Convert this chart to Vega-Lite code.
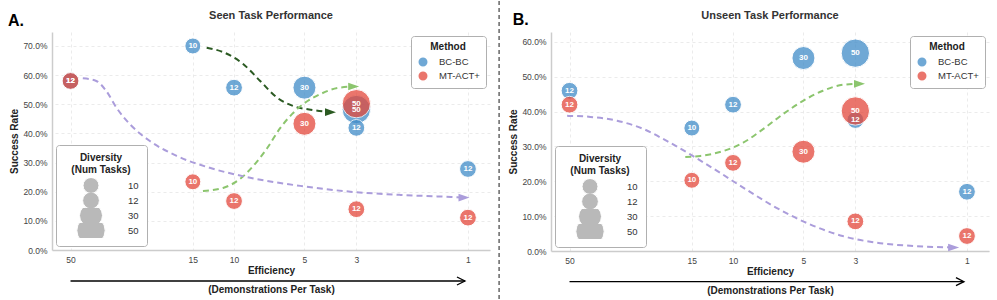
{
  "$schema": "https://vega.github.io/schema/vega-lite/v6.json",
  "padding": {"left": 8, "top": 0, "right": 5, "bottom": 0},
  "datasets": {
    "seenPoints": [
      {"method": "BC-BC", "demos": 50, "tasks": 12, "rate": 0.58},
      {"method": "BC-BC", "demos": 15, "tasks": 10, "rate": 0.70},
      {"method": "BC-BC", "demos": 10, "tasks": 12, "rate": 0.557},
      {"method": "BC-BC", "demos": 5, "tasks": 30, "rate": 0.557},
      {"method": "BC-BC", "demos": 3, "tasks": 50, "rate": 0.482},
      {"method": "BC-BC", "demos": 3, "tasks": 12, "rate": 0.419},
      {"method": "BC-BC", "demos": 1, "tasks": 12, "rate": 0.278},
      {"method": "MT-ACT+", "demos": 50, "tasks": 12, "rate": 0.58},
      {"method": "MT-ACT+", "demos": 15, "tasks": 10, "rate": 0.234},
      {"method": "MT-ACT+", "demos": 10, "tasks": 12, "rate": 0.168},
      {"method": "MT-ACT+", "demos": 5, "tasks": 30, "rate": 0.433},
      {"method": "MT-ACT+", "demos": 3, "tasks": 50, "rate": 0.502},
      {"method": "MT-ACT+", "demos": 3, "tasks": 12, "rate": 0.14},
      {"method": "MT-ACT+", "demos": 1, "tasks": 12, "rate": 0.111}
    ],
    "unseenPoints": [
      {"method": "BC-BC", "demos": 50, "tasks": 12, "rate": 0.46},
      {"method": "BC-BC", "demos": 15, "tasks": 10, "rate": 0.353},
      {"method": "BC-BC", "demos": 10, "tasks": 12, "rate": 0.42},
      {"method": "BC-BC", "demos": 5, "tasks": 30, "rate": 0.554},
      {"method": "BC-BC", "demos": 3, "tasks": 50, "rate": 0.568},
      {"method": "BC-BC", "demos": 3, "tasks": 12, "rate": 0.376},
      {"method": "BC-BC", "demos": 1, "tasks": 12, "rate": 0.17},
      {"method": "MT-ACT+", "demos": 50, "tasks": 12, "rate": 0.42},
      {"method": "MT-ACT+", "demos": 15, "tasks": 10, "rate": 0.203},
      {"method": "MT-ACT+", "demos": 10, "tasks": 12, "rate": 0.253},
      {"method": "MT-ACT+", "demos": 5, "tasks": 30, "rate": 0.285},
      {"method": "MT-ACT+", "demos": 3, "tasks": 50, "rate": 0.402},
      {"method": "MT-ACT+", "demos": 3, "tasks": 12, "rate": 0.085},
      {"method": "MT-ACT+", "demos": 1, "tasks": 12, "rate": 0.043}
    ],
    "seenCurves": [
      {"kind": "dark", "demos": 13.09, "rate": 0.694},
      {"kind": "dark", "demos": 11.14, "rate": 0.679},
      {"kind": "dark", "demos": 9.14, "rate": 0.638},
      {"kind": "dark", "demos": 7.73, "rate": 0.58},
      {"kind": "dark", "demos": 6.53, "rate": 0.522},
      {"kind": "dark", "demos": 5.58, "rate": 0.494},
      {"kind": "dark", "demos": 4.58, "rate": 0.48},
      {"kind": "dark", "demos": 3.87, "rate": 0.473},
      {"kind": "light", "demos": 13.58, "rate": 0.2025},
      {"kind": "light", "demos": 11.14, "rate": 0.213},
      {"kind": "light", "demos": 9.42, "rate": 0.244},
      {"kind": "light", "demos": 8.28, "rate": 0.288},
      {"kind": "light", "demos": 7.21, "rate": 0.35},
      {"kind": "light", "demos": 6.34, "rate": 0.419},
      {"kind": "light", "demos": 5.64, "rate": 0.467},
      {"kind": "light", "demos": 5.06, "rate": 0.501},
      {"kind": "light", "demos": 4.27, "rate": 0.535},
      {"kind": "light", "demos": 3.61, "rate": 0.556},
      {"kind": "light", "demos": 3.08, "rate": 0.561},
      {"kind": "purple", "demos": 44.3, "rate": 0.589},
      {"kind": "purple", "demos": 38.8, "rate": 0.58},
      {"kind": "purple", "demos": 35.2, "rate": 0.546},
      {"kind": "purple", "demos": 31.8, "rate": 0.488},
      {"kind": "purple", "demos": 27.9, "rate": 0.432},
      {"kind": "purple", "demos": 22.9, "rate": 0.374},
      {"kind": "purple", "demos": 17.6, "rate": 0.323},
      {"kind": "purple", "demos": 12.7, "rate": 0.282},
      {"kind": "purple", "demos": 8.53, "rate": 0.248},
      {"kind": "purple", "demos": 5.21, "rate": 0.22},
      {"kind": "purple", "demos": 3.18, "rate": 0.2},
      {"kind": "purple", "demos": 1.94, "rate": 0.189},
      {"kind": "purple", "demos": 1.18, "rate": 0.182},
      {"kind": "purple", "demos": 1.04, "rate": 0.18}
    ],
    "unseenCurves": [
      {"kind": "light", "demos": 16.0, "rate": 0.27},
      {"kind": "light", "demos": 13.8, "rate": 0.273},
      {"kind": "light", "demos": 11.0, "rate": 0.287},
      {"kind": "light", "demos": 9.05, "rate": 0.311},
      {"kind": "light", "demos": 7.44, "rate": 0.35},
      {"kind": "light", "demos": 6.11, "rate": 0.393},
      {"kind": "light", "demos": 5.02, "rate": 0.431},
      {"kind": "light", "demos": 4.13, "rate": 0.46},
      {"kind": "light", "demos": 3.4, "rate": 0.477},
      {"kind": "light", "demos": 2.88, "rate": 0.48},
      {"kind": "purple", "demos": 51.2, "rate": 0.388},
      {"kind": "purple", "demos": 40.7, "rate": 0.385},
      {"kind": "purple", "demos": 31.3, "rate": 0.374},
      {"kind": "purple", "demos": 24.1, "rate": 0.35},
      {"kind": "purple", "demos": 19.2, "rate": 0.316},
      {"kind": "purple", "demos": 15.3, "rate": 0.278},
      {"kind": "purple", "demos": 11.7, "rate": 0.23},
      {"kind": "purple", "demos": 9.05, "rate": 0.182},
      {"kind": "purple", "demos": 6.52, "rate": 0.124},
      {"kind": "purple", "demos": 4.71, "rate": 0.077},
      {"kind": "purple", "demos": 3.4, "rate": 0.043},
      {"kind": "purple", "demos": 2.45, "rate": 0.024},
      {"kind": "purple", "demos": 1.65, "rate": 0.014},
      {"kind": "purple", "demos": 1.14, "rate": 0.01}
    ],
    "seenHeads": [
      {"kind": "dark", "demos": 3.87, "rate": 0.473},
      {"kind": "light", "demos": 3.08, "rate": 0.561},
      {"kind": "purple", "demos": 1.04, "rate": 0.18}
    ],
    "unseenHeads": [
      {"kind": "light", "demos": 2.88, "rate": 0.48},
      {"kind": "purple", "demos": 1.14, "rate": 0.01}
    ],
    "one": [{"n": 1}]
  },
  "hconcat": [
    {
      "width": 438,
      "height": 218,
      "layer": [
        {
          "data": {"name": "seenCurves"},
          "mark": {"type": "line", "strokeDash": [6, 4], "strokeWidth": 2, "interpolate": "monotone"},
          "encoding": {
            "x": {"field": "demos", "type": "quantitative", "scale": {"type": "log", "domain": [0.805, 60], "reverse": true, "nice": false},
              "axis": {"values": [50, 15, 10, 5, 3, 1], "format": "d", "labelPadding": 5, "title": ["Efficiency", "(Demonstrations Per Task)"], "titlePadding": 2, "titleLineHeight": 19}},
            "y": {"field": "rate", "type": "quantitative", "scale": {"domain": [0, 0.748], "nice": false},
              "axis": {"values": [0, 0.1, 0.2, 0.3, 0.4, 0.5, 0.6, 0.7], "format": ".1%", "title": "Success Rate", "labelPadding": 5, "titlePadding": 3}},
            "stroke": {"field": "kind", "type": "nominal", "scale": {"domain": ["dark", "light", "purple"], "range": ["#2b5a22", "#8cc56e", "#ab9ddb"]}, "legend": null},
            "order": {"field": "demos", "sort": "descending"}
          }
        },
        {
          "data": {"name": "seenHeads"},
          "mark": {"type": "point", "filled": true, "shape": "M-1,-0.7L1,0L-1,0.7Z", "size": 121, "opacity": 1, "strokeWidth": 0},
          "encoding": {
            "x": {"field": "demos", "type": "quantitative", "scale": {"type": "log", "domain": [0.805, 60], "reverse": true, "nice": false},
              "axis": {"values": [50, 15, 10, 5, 3, 1], "format": "d", "labelPadding": 5, "title": ["Efficiency", "(Demonstrations Per Task)"], "titlePadding": 2, "titleLineHeight": 19}},
            "y": {"field": "rate", "type": "quantitative", "scale": {"domain": [0, 0.748], "nice": false},
              "axis": {"values": [0, 0.1, 0.2, 0.3, 0.4, 0.5, 0.6, 0.7], "format": ".1%", "title": "Success Rate", "labelPadding": 5, "titlePadding": 3}},
            "fill": {"field": "kind", "type": "nominal", "scale": {"domain": ["dark", "light", "purple"], "range": ["#2b5a22", "#8cc56e", "#ab9ddb"]}, "legend": null}
          }
        },
        {
          "data": {"name": "seenPoints"},
          "mark": {"type": "point", "filled": true, "opacity": 0.75, "stroke": "white", "strokeWidth": 1},
          "encoding": {
            "x": {"field": "demos", "type": "quantitative", "scale": {"type": "log", "domain": [0.805, 60], "reverse": true, "nice": false},
              "axis": {"values": [50, 15, 10, 5, 3, 1], "format": "d", "labelPadding": 5, "title": ["Efficiency", "(Demonstrations Per Task)"], "titlePadding": 2, "titleLineHeight": 19}},
            "y": {"field": "rate", "type": "quantitative", "scale": {"domain": [0, 0.748], "nice": false},
              "axis": {"values": [0, 0.1, 0.2, 0.3, 0.4, 0.5, 0.6, 0.7], "format": ".1%", "title": "Success Rate", "labelPadding": 5, "titlePadding": 3}},
            "color": {"field": "method", "type": "nominal", "scale": {"domain": ["BC-BC", "MT-ACT+"], "range": ["#3f8bc8", "#e3483b"]},
              "legend": {"title": "Method", "orient": "top-right", "offset": 4, "symbolSize": 110, "symbolType": "circle", "labelOffset": 10, "padding": 6, "rowPadding": 2, "clipHeight": 12, "titlePadding": 4, "symbolOpacity": 0.75}},
            "size": {"field": "tasks", "type": "quantitative", "scale": {"type": "linear", "domain": [10, 50], "range": [254, 804], "zero": false},
              "legend": {"title": ["Diversity", "(Num Tasks)"], "orient": "bottom-left", "direction": "vertical", "offset": 4, "values": [10, 12, 30, 50],
                "symbolFillColor": "#8a8a8a", "symbolStrokeColor": "white", "symbolStrokeWidth": 1, "symbolOpacity": 0.6, "clipHeight": 15, "symbolOffset": 12,
                "rowPadding": 0, "labelOffset": 22, "padding": 8, "titleLineHeight": 12, "titlePadding": 3}}
          }
        },
        {
          "data": {"name": "seenPoints"},
          "mark": {"type": "text", "color": "white", "fontWeight": "bold", "fontSize": 8, "baseline": "middle"},
          "encoding": {
            "x": {"field": "demos", "type": "quantitative", "scale": {"type": "log", "domain": [0.805, 60], "reverse": true, "nice": false},
              "axis": {"values": [50, 15, 10, 5, 3, 1], "format": "d", "labelPadding": 5, "title": ["Efficiency", "(Demonstrations Per Task)"], "titlePadding": 2, "titleLineHeight": 19}},
            "y": {"field": "rate", "type": "quantitative", "scale": {"domain": [0, 0.748], "nice": false},
              "axis": {"values": [0, 0.1, 0.2, 0.3, 0.4, 0.5, 0.6, 0.7], "format": ".1%", "title": "Success Rate", "labelPadding": 5, "titlePadding": 3}},
            "text": {"field": "tasks", "type": "nominal"}
          }
        },
        {
          "data": {"name": "one"},
          "mark": {"type": "text", "fontSize": 16, "fontWeight": "bold", "align": "left", "baseline": "alphabetic", "color": "black"},
          "encoding": {
            "x": {"datum": 92.5, "type": "quantitative", "scale": {"type": "log", "domain": [0.805, 60], "reverse": true, "nice": false},
              "axis": {"values": [50, 15, 10, 5, 3, 1], "format": "d", "labelPadding": 5, "title": ["Efficiency", "(Demonstrations Per Task)"], "titlePadding": 2, "titleLineHeight": 19}},
            "y": {"datum": 0.7687, "type": "quantitative", "scale": {"domain": [0, 0.748], "nice": false},
              "axis": {"values": [0, 0.1, 0.2, 0.3, 0.4, 0.5, 0.6, 0.7], "format": ".1%", "title": "Success Rate", "labelPadding": 5, "titlePadding": 3}},
            "text": {"value": "A."}
          }
        },
        {
          "data": {"name": "one"},
          "mark": {"type": "text", "fontSize": 11, "fontWeight": "bold", "align": "center", "baseline": "alphabetic", "color": "#333333"},
          "encoding": {
            "x": {"datum": 6.95, "type": "quantitative", "scale": {"type": "log", "domain": [0.805, 60], "reverse": true, "nice": false},
              "axis": {"values": [50, 15, 10, 5, 3, 1], "format": "d", "labelPadding": 5, "title": ["Efficiency", "(Demonstrations Per Task)"], "titlePadding": 2, "titleLineHeight": 19}},
            "y": {"datum": 0.7927, "type": "quantitative", "scale": {"domain": [0, 0.748], "nice": false},
              "axis": {"values": [0, 0.1, 0.2, 0.3, 0.4, 0.5, 0.6, 0.7], "format": ".1%", "title": "Success Rate", "labelPadding": 5, "titlePadding": 3}},
            "text": {"value": "Seen Task Performance"}
          }
        },
        {
          "data": {"name": "one"},
          "mark": {"type": "rule", "color": "black", "strokeWidth": 1.3},
          "encoding": {
            "x": {"datum": 50, "type": "quantitative", "scale": {"type": "log", "domain": [0.805, 60], "reverse": true, "nice": false},
              "axis": {"values": [50, 15, 10, 5, 3, 1], "format": "d", "labelPadding": 5, "title": ["Efficiency", "(Demonstrations Per Task)"], "titlePadding": 2, "titleLineHeight": 19}},
            "x2": {"datum": 1.03},
            "y": {"datum": -0.1064, "type": "quantitative", "scale": {"domain": [0, 0.748], "nice": false},
              "axis": {"values": [0, 0.1, 0.2, 0.3, 0.4, 0.5, 0.6, 0.7], "format": ".1%", "title": "Success Rate", "labelPadding": 5, "titlePadding": 3}}
          }
        },
        {
          "data": {"name": "one"},
          "mark": {"type": "point", "shape": "M-1,-0.5L0,0L-1,0.5", "filled": false, "stroke": "black", "strokeWidth": 1.3, "size": 256, "opacity": 1},
          "encoding": {
            "x": {"datum": 1.03, "type": "quantitative", "scale": {"type": "log", "domain": [0.805, 60], "reverse": true, "nice": false},
              "axis": {"values": [50, 15, 10, 5, 3, 1], "format": "d", "labelPadding": 5, "title": ["Efficiency", "(Demonstrations Per Task)"], "titlePadding": 2, "titleLineHeight": 19}},
            "y": {"datum": -0.1064, "type": "quantitative", "scale": {"domain": [0, 0.748], "nice": false},
              "axis": {"values": [0, 0.1, 0.2, 0.3, 0.4, 0.5, 0.6, 0.7], "format": ".1%", "title": "Success Rate", "labelPadding": 5, "titlePadding": 3}}
          }
        }
      ]
    },
    {
      "width": 438,
      "height": 219,
      "layer": [
        {
          "data": {"name": "one"},
          "mark": {"type": "rule", "color": "#666666", "strokeWidth": 1.5, "strokeDash": [4, 3]},
          "encoding": {
            "x": {"datum": 100, "type": "quantitative", "scale": {"type": "log", "domain": [0.805, 60], "reverse": true, "nice": false},
              "axis": {"values": [50, 15, 10, 5, 3, 1], "format": "d", "labelPadding": 5, "title": ["Efficiency", "(Demonstrations Per Task)"], "titlePadding": 2, "titleLineHeight": 19}},
            "y": {"datum": 0.7177, "type": "quantitative", "scale": {"domain": [0, 0.6287], "nice": false},
              "axis": {"values": [0, 0.1, 0.2, 0.3, 0.4, 0.5, 0.6], "format": ".1%", "title": "Success Rate", "labelPadding": 5, "titlePadding": 3}},
            "y2": {"datum": -0.1436}
          }
        },
        {
          "data": {"name": "unseenCurves"},
          "mark": {"type": "line", "strokeDash": [6, 4], "strokeWidth": 2, "interpolate": "monotone"},
          "encoding": {
            "x": {"field": "demos", "type": "quantitative", "scale": {"type": "log", "domain": [0.805, 60], "reverse": true, "nice": false},
              "axis": {"values": [50, 15, 10, 5, 3, 1], "format": "d", "labelPadding": 5, "title": ["Efficiency", "(Demonstrations Per Task)"], "titlePadding": 2, "titleLineHeight": 19}},
            "y": {"field": "rate", "type": "quantitative", "scale": {"domain": [0, 0.6287], "nice": false},
              "axis": {"values": [0, 0.1, 0.2, 0.3, 0.4, 0.5, 0.6], "format": ".1%", "title": "Success Rate", "labelPadding": 5, "titlePadding": 3}},
            "stroke": {"field": "kind", "type": "nominal", "scale": {"domain": ["dark", "light", "purple"], "range": ["#2b5a22", "#8cc56e", "#ab9ddb"]}, "legend": null},
            "order": {"field": "demos", "sort": "descending"}
          }
        },
        {
          "data": {"name": "unseenHeads"},
          "mark": {"type": "point", "filled": true, "shape": "M-1,-0.7L1,0L-1,0.7Z", "size": 121, "opacity": 1, "strokeWidth": 0},
          "encoding": {
            "x": {"field": "demos", "type": "quantitative", "scale": {"type": "log", "domain": [0.805, 60], "reverse": true, "nice": false},
              "axis": {"values": [50, 15, 10, 5, 3, 1], "format": "d", "labelPadding": 5, "title": ["Efficiency", "(Demonstrations Per Task)"], "titlePadding": 2, "titleLineHeight": 19}},
            "y": {"field": "rate", "type": "quantitative", "scale": {"domain": [0, 0.6287], "nice": false},
              "axis": {"values": [0, 0.1, 0.2, 0.3, 0.4, 0.5, 0.6], "format": ".1%", "title": "Success Rate", "labelPadding": 5, "titlePadding": 3}},
            "fill": {"field": "kind", "type": "nominal", "scale": {"domain": ["dark", "light", "purple"], "range": ["#2b5a22", "#8cc56e", "#ab9ddb"]}, "legend": null}
          }
        },
        {
          "data": {"name": "unseenPoints"},
          "mark": {"type": "point", "filled": true, "opacity": 0.75, "stroke": "white", "strokeWidth": 1},
          "encoding": {
            "x": {"field": "demos", "type": "quantitative", "scale": {"type": "log", "domain": [0.805, 60], "reverse": true, "nice": false},
              "axis": {"values": [50, 15, 10, 5, 3, 1], "format": "d", "labelPadding": 5, "title": ["Efficiency", "(Demonstrations Per Task)"], "titlePadding": 2, "titleLineHeight": 19}},
            "y": {"field": "rate", "type": "quantitative", "scale": {"domain": [0, 0.6287], "nice": false},
              "axis": {"values": [0, 0.1, 0.2, 0.3, 0.4, 0.5, 0.6], "format": ".1%", "title": "Success Rate", "labelPadding": 5, "titlePadding": 3}},
            "color": {"field": "method", "type": "nominal", "scale": {"domain": ["BC-BC", "MT-ACT+"], "range": ["#3f8bc8", "#e3483b"]},
              "legend": {"title": "Method", "orient": "top-right", "offset": 4, "symbolSize": 110, "symbolType": "circle", "labelOffset": 10, "padding": 6, "rowPadding": 2, "clipHeight": 12, "titlePadding": 4, "symbolOpacity": 0.75}},
            "size": {"field": "tasks", "type": "quantitative", "scale": {"type": "linear", "domain": [10, 50], "range": [254, 804], "zero": false},
              "legend": {"title": ["Diversity", "(Num Tasks)"], "orient": "bottom-left", "direction": "vertical", "offset": 4, "values": [10, 12, 30, 50],
                "symbolFillColor": "#8a8a8a", "symbolStrokeColor": "white", "symbolStrokeWidth": 1, "symbolOpacity": 0.6, "clipHeight": 15, "symbolOffset": 12,
                "rowPadding": 0, "labelOffset": 22, "padding": 8, "titleLineHeight": 12, "titlePadding": 3}}
          }
        },
        {
          "data": {"name": "unseenPoints"},
          "mark": {"type": "text", "color": "white", "fontWeight": "bold", "fontSize": 8, "baseline": "middle"},
          "encoding": {
            "x": {"field": "demos", "type": "quantitative", "scale": {"type": "log", "domain": [0.805, 60], "reverse": true, "nice": false},
              "axis": {"values": [50, 15, 10, 5, 3, 1], "format": "d", "labelPadding": 5, "title": ["Efficiency", "(Demonstrations Per Task)"], "titlePadding": 2, "titleLineHeight": 19}},
            "y": {"field": "rate", "type": "quantitative", "scale": {"domain": [0, 0.6287], "nice": false},
              "axis": {"values": [0, 0.1, 0.2, 0.3, 0.4, 0.5, 0.6], "format": ".1%", "title": "Success Rate", "labelPadding": 5, "titlePadding": 3}},
            "text": {"field": "tasks", "type": "nominal"}
          }
        },
        {
          "data": {"name": "one"},
          "mark": {"type": "text", "fontSize": 16, "fontWeight": "bold", "align": "left", "baseline": "alphabetic", "color": "black"},
          "encoding": {
            "x": {"datum": 87.5, "type": "quantitative", "scale": {"type": "log", "domain": [0.805, 60], "reverse": true, "nice": false},
              "axis": {"values": [50, 15, 10, 5, 3, 1], "format": "d", "labelPadding": 5, "title": ["Efficiency", "(Demonstrations Per Task)"], "titlePadding": 2, "titleLineHeight": 19}},
            "y": {"datum": 0.649, "type": "quantitative", "scale": {"domain": [0, 0.6287], "nice": false},
              "axis": {"values": [0, 0.1, 0.2, 0.3, 0.4, 0.5, 0.6], "format": ".1%", "title": "Success Rate", "labelPadding": 5, "titlePadding": 3}},
            "text": {"value": "B."}
          }
        },
        {
          "data": {"name": "one"},
          "mark": {"type": "text", "fontSize": 11, "fontWeight": "bold", "align": "center", "baseline": "alphabetic", "color": "#333333"},
          "encoding": {
            "x": {"datum": 6.95, "type": "quantitative", "scale": {"type": "log", "domain": [0.805, 60], "reverse": true, "nice": false},
              "axis": {"values": [50, 15, 10, 5, 3, 1], "format": "d", "labelPadding": 5, "title": ["Efficiency", "(Demonstrations Per Task)"], "titlePadding": 2, "titleLineHeight": 19}},
            "y": {"datum": 0.666, "type": "quantitative", "scale": {"domain": [0, 0.6287], "nice": false},
              "axis": {"values": [0, 0.1, 0.2, 0.3, 0.4, 0.5, 0.6], "format": ".1%", "title": "Success Rate", "labelPadding": 5, "titlePadding": 3}},
            "text": {"value": "Unseen Task Performance"}
          }
        },
        {
          "data": {"name": "one"},
          "mark": {"type": "rule", "color": "black", "strokeWidth": 1.3},
          "encoding": {
            "x": {"datum": 50, "type": "quantitative", "scale": {"type": "log", "domain": [0.805, 60], "reverse": true, "nice": false},
              "axis": {"values": [50, 15, 10, 5, 3, 1], "format": "d", "labelPadding": 5, "title": ["Efficiency", "(Demonstrations Per Task)"], "titlePadding": 2, "titleLineHeight": 19}},
            "x2": {"datum": 1.03},
            "y": {"datum": -0.088, "type": "quantitative", "scale": {"domain": [0, 0.6287], "nice": false},
              "axis": {"values": [0, 0.1, 0.2, 0.3, 0.4, 0.5, 0.6], "format": ".1%", "title": "Success Rate", "labelPadding": 5, "titlePadding": 3}}
          }
        },
        {
          "data": {"name": "one"},
          "mark": {"type": "point", "shape": "M-1,-0.5L0,0L-1,0.5", "filled": false, "stroke": "black", "strokeWidth": 1.3, "size": 256, "opacity": 1},
          "encoding": {
            "x": {"datum": 1.03, "type": "quantitative", "scale": {"type": "log", "domain": [0.805, 60], "reverse": true, "nice": false},
              "axis": {"values": [50, 15, 10, 5, 3, 1], "format": "d", "labelPadding": 5, "title": ["Efficiency", "(Demonstrations Per Task)"], "titlePadding": 2, "titleLineHeight": 19}},
            "y": {"datum": -0.088, "type": "quantitative", "scale": {"domain": [0, 0.6287], "nice": false},
              "axis": {"values": [0, 0.1, 0.2, 0.3, 0.4, 0.5, 0.6], "format": ".1%", "title": "Success Rate", "labelPadding": 5, "titlePadding": 3}}
          }
        }
      ]
    }
  ],
  "spacing": 61,
  "bounds": "flush",
  "resolve": {
    "scale": {"x": "independent", "y": "independent", "color": "independent", "size": "independent", "stroke": "independent", "fill": "independent"},
    "legend": {"color": "independent", "size": "independent"}
  },
  "config": {
    "font": "Liberation Sans",
    "view": {"stroke": null},
    "axis": {"labelFontSize": 8.5, "labelColor": "#444444", "ticks": false, "domainColor": "#cccccc", "domainWidth": 1.5,
      "grid": true, "gridColor": "#e6e6e6", "gridDash": [3, 3], "gridWidth": 0.8,
      "titleFontSize": 10, "titleFontWeight": "bold", "titleColor": "#222222"},
    "axisY": {"tickCount": 8},
    "legend": {"fillColor": "white", "strokeColor": "#b0b0b0", "cornerRadius": 3, "titleFontSize": 10, "titleFontWeight": "bold",
      "titleColor": "#222222", "labelFontSize": 9.5, "labelColor": "#333333", "titleAnchor": "middle", "titleAlign": "center"}
  }
}
